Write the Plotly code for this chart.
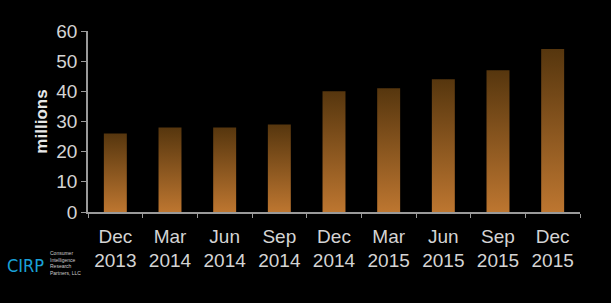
import plotly.graph_objects as go

categories = ["Dec<br>2013", "Mar<br>2014", "Jun<br>2014", "Sep<br>2014", "Dec<br>2014",
              "Mar<br>2015", "Jun<br>2015", "Sep<br>2015", "Dec<br>2015"]
values = [26, 28, 28, 29, 40, 41, 44, 47, 54]
y_ticks = [0, 10, 20, 30, 40, 50, 60]

bar_half = 0.21
top_color = "#56360e"
bottom_color = "#bd7630"

fig = go.Figure()
for i, v in enumerate(values):
    xs = [i - bar_half, i + bar_half, i + bar_half, i - bar_half, i - bar_half]
    ys = [0, 0, v, v, 0]
    fig.add_trace(go.Scatter(
        x=xs, y=ys, mode="lines", fill="toself", line=dict(width=0),
        fillgradient=dict(type="vertical",
                          colorscale=[[0, bottom_color], [1, top_color]]),
        hoverinfo="skip", showlegend=False,
    ))

fig.update_layout(
    width=611, height=303,
    margin=dict(l=88, r=31, t=31, b=91),
    paper_bgcolor="black", plot_bgcolor="black",
    font=dict(family="Liberation Sans, Arial, sans-serif", color="#d4d4d4", size=19),
    showlegend=False,
)
fig.update_xaxes(
    range=[-0.5, 8.5], tickmode="array", tickvals=list(range(len(categories))),
    ticktext=categories, ticks="", showgrid=False, zeroline=False,
    showline=True, linecolor="#9a9a9a", linewidth=1.5,
    tickfont=dict(size=19, color="#d4d4d4"), ticklabelstandoff=6,
    minor=dict(tickmode="linear", tick0=-0.5, dtick=1, ticks="outside",
               ticklen=4, tickcolor="#9a9a9a", showgrid=False),
)
fig.update_yaxes(
    range=[0, 60], tickmode="array", tickvals=y_ticks, ticks="outside",
    ticklen=5, tickcolor="#9a9a9a", showgrid=False, zeroline=False,
    showline=True, linecolor="#9a9a9a", linewidth=1.5,
    tickfont=dict(size=19, color="#d4d4d4"),
    title=dict(text="<b>millions</b>", font=dict(size=17, color="#e8e8e8"), standoff=4),
)

fig.add_annotation(
    x=-0.168, y=-0.225, xref="paper", yref="paper", xanchor="left", yanchor="top",
    text="CIRP", showarrow=False,
    font=dict(family="DejaVu Sans Condensed, Liberation Sans, sans-serif", size=18, color="#1aa0d8"),
)
fig.add_annotation(
    x=-0.082, y=-0.2, xref="paper", yref="paper", xanchor="left", yanchor="top",
    text="Consumer<br>Intelligence<br>Research<br>Partners, LLC", showarrow=False, align="left",
    font=dict(family="Liberation Sans, sans-serif", size=5, color="#cccccc"),
)

fig.write_html("out.html")
